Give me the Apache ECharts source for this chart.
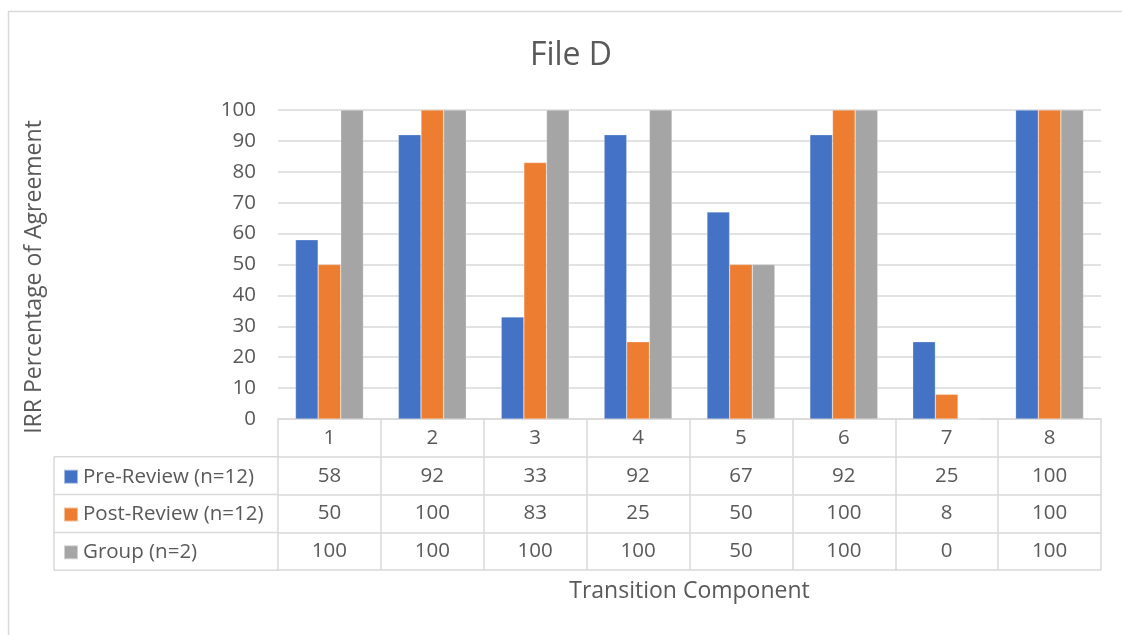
<!DOCTYPE html>
<html>
<head>
<meta charset="utf-8">
<title>File D</title>
<script src="https://cdn.jsdelivr.net/npm/echarts@6/dist/echarts.min.js"></script>
<style>
  html, body { margin: 0; padding: 0; background: #fff; }
  #chart { width: 1122px; height: 635px; }
</style>
</head>
<body>
<div id="chart"></div>
<script>
// Transition components and IRR agreement percentages per reviewer group
var categories = ['1', '2', '3', '4', '5', '6', '7', '8'];
var seriesNames = ['Pre-Review (n=12)', 'Post-Review (n=12)', 'Group (n=2)'];
var preReview = [58, 92, 33, 92, 67, 92, 25, 100];
var postReview = [50, 100, 83, 25, 50, 100, 8, 100];
var groupReview = [100, 100, 100, 100, 50, 100, 0, 100];
var yTicks = { min: 0, max: 100, interval: 10 };

var colors = ['#4472C4', '#ED7D31', '#A5A5A5'];
var textColor = '#595959';
var lineColor = '#D9D9D9';
var font = '"Open Sans", "Noto Sans", sans-serif';
var labelSize = 20.5;
var axisTitleSize = 23;

// plot layout
var W = 1122, H = 635;
var gridLeft = 278, gridRight = 21, gridTop = 110, gridBottom = 216;
var rowH = 37.8;               // data-table row height
var tableLeft = 54;            // left edge of the series-name column
var zeroY = H - gridBottom;    // y of the value axis baseline / table top

var rows = [preReview, postReview, groupReview];

// one category axis per data-table row, stacked under the plot
function tableAxis(idx, values) {
  return {
    type: 'category',
    data: categories,
    position: 'bottom',
    offset: idx * rowH,
    boundaryGap: true,
    axisLine: { show: true, lineStyle: { color: lineColor, width: 1.5 } },
    axisTick: { show: true, length: rowH, lineStyle: { color: lineColor, width: 1.5 } },
    axisLabel: {
      show: true,
      margin: rowH / 2,
      verticalAlign: 'middle',
      color: textColor,
      fontSize: labelSize,
      fontFamily: font,
      formatter: function (v, i) { return values ? String(values[i]) : v; }
    },
    splitLine: { show: false }
  };
}

var xAxes = [tableAxis(0, null)];
rows.forEach(function (r, k) { xAxes.push(tableAxis(k + 1, r)); });
// bottom border of the table
xAxes.push({
  type: 'category', data: categories, position: 'bottom', offset: (rows.length + 1) * rowH,
  axisLine: { show: true, lineStyle: { color: lineColor, width: 1.5 } },
  axisTick: { show: false }, axisLabel: { show: false }, splitLine: { show: false }
});

// series-name column lines, aligned with the table rows
var leftCol = [];
for (var r = 1; r <= rows.length + 1; r++) {
  leftCol.push({
    type: 'line',
    shape: { x1: tableLeft, y1: zeroY + r * rowH, x2: gridLeft, y2: zeroY + r * rowH },
    style: { stroke: lineColor, lineWidth: 1.5 }
  });
}
leftCol.push({
  type: 'line',
  shape: { x1: tableLeft, y1: zeroY + rowH, x2: tableLeft, y2: zeroY + (rows.length + 1) * rowH },
  style: { stroke: lineColor, lineWidth: 1.5 }
});

var series = rows.map(function (d, i) {
  return {
    name: seriesNames[i],
    type: 'bar',
    data: d,
    barGap: '0%',
    barCategoryGap: '34%',
    itemStyle: { color: colors[i], borderColor: 'rgba(255,255,255,0.5)', borderWidth: 0.5 },
    emphasis: { disabled: true }
  };
});

var legendLine = 22;
var chart = echarts.init(document.getElementById('chart'), null, { renderer: 'canvas' });
chart.setOption({
  animation: false,
  backgroundColor: '#fff',
  title: {
    text: 'File D',
    left: 566,
    top: 35,
    textAlign: 'center',
    textStyle: { color: textColor, fontSize: 32, fontWeight: 'normal', fontFamily: font }
  },
  grid: { left: gridLeft, right: gridRight, top: gridTop, bottom: gridBottom },
  legend: {
    orient: 'vertical',
    left: tableLeft + 9,
    top: zeroY + rowH + (rowH - legendLine) / 2 + 1,
    padding: 0,
    itemWidth: 14,
    itemHeight: 14,
    itemGap: rowH - legendLine,
    icon: 'rect',
    selectedMode: false,
    data: seriesNames,
    textStyle: { color: textColor, fontSize: labelSize, lineHeight: legendLine, fontFamily: font }
  },
  xAxis: xAxes,
  yAxis: {
    type: 'value',
    min: yTicks.min,
    max: yTicks.max,
    interval: yTicks.interval,
    axisLine: { show: false },
    axisTick: { show: false },
    axisLabel: { color: textColor, fontSize: labelSize, fontFamily: font, margin: 22 },
    splitLine: { lineStyle: { color: lineColor, width: 1.5 } }
  },
  series: series,
  graphic: [
    {
      type: 'rect',
      shape: { x: 8.5, y: 11.5, width: W + 50, height: H + 50 },
      style: { fill: 'none', stroke: lineColor, lineWidth: 1.5 },
      silent: true
    },
    {
      type: 'text',
      x: 34, y: 277,
      rotation: Math.PI / 2,
      style: {
        text: 'IRR Percentage of Agreement',
        fill: textColor, font: axisTitleSize + 'px ' + font,
        textAlign: 'center', textVerticalAlign: 'middle'
      }
    },
    {
      type: 'text',
      x: gridLeft + (W - gridLeft - gridRight) / 2,
      y: zeroY + (rows.length + 1) * rowH + 21,
      style: {
        text: 'Transition Component',
        fill: textColor, font: axisTitleSize + 'px ' + font,
        textAlign: 'center', textVerticalAlign: 'middle'
      }
    }
  ].concat(leftCol)
});
</script>
</body>
</html>
